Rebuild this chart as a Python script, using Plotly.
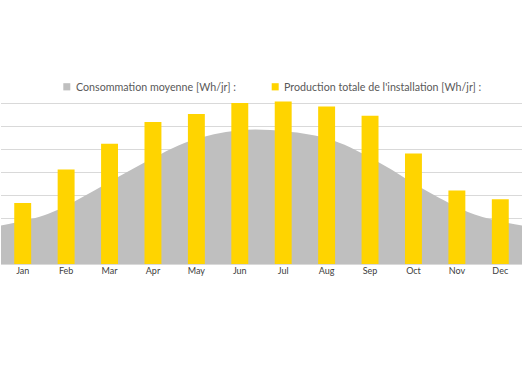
import plotly.graph_objects as go

months = ["Jan", "Feb", "Mar", "Apr", "May", "Jun", "Jul", "Aug", "Sep", "Oct", "Nov", "Dec"]
consommation = [1.68, 2.2, 3.25, 4.4, 5.39, 5.84, 5.80, 5.41, 4.42, 3.18, 2.16, 1.68]
production = [2.67, 4.13, 5.26, 6.21, 6.56, 7.04, 7.10, 6.89, 6.48, 4.83, 3.21, 2.83]
grid_values = [0, 1, 2, 3, 4, 5, 6, 7]

name_cons = "Consommation moyenne [Wh/jr] :"
name_prod = "Production totale de l'installation [Wh/jr] :"
color_cons = "#bfbfbf"
color_prod = "#ffd400"

WIDTH, HEIGHT = 526, 365
L, R, T, B = 1, 4, 81.3, 100.5
PW, PH = WIDTH - L - R, HEIGHT - T - B


def px(x):
    return (x - L) / PW


def py(y):
    return (HEIGHT - B - y) / PH


fig = go.Figure()
fig.add_trace(go.Scatter(
    x=months, y=consommation, name=name_cons, xaxis="x", yaxis="y",
    mode="none", fill="tozeroy", fillcolor=color_cons,
    line=dict(shape="spline", smoothing=1.0), showlegend=False,
))
fig.add_trace(go.Bar(
    x=months, y=production, name=name_prod, xaxis="x2", yaxis="y",
    marker=dict(color=color_prod, line=dict(width=0)), showlegend=False,
))

# legend drawn as shapes + text
legend_items = [(name_cons, color_cons, 63.3, 74), (name_prod, color_prod, 271.7, 282)]
shapes = []
annotations = []
for name, col, sx, tx in legend_items:
    shapes.append(dict(type="rect", xref="paper", yref="paper",
                       x0=px(sx), x1=px(sx + 7), y0=py(90.7), y1=py(83.5),
                       fillcolor=col, line=dict(width=0)))
    annotations.append(dict(text=name, xref="paper", yref="paper", x=px(tx), y=py(87),
                            xanchor="left", yanchor="middle", showarrow=False,
                            font=dict(size=10.7, color="#595959")))

fig.update_layout(
    width=WIDTH, height=HEIGHT,
    margin=dict(l=L, r=R, t=T, b=B),
    paper_bgcolor="white", plot_bgcolor="white",
    font=dict(family="Lato, Open Sans, sans-serif", color="#595959"),
    bargap=0.61,
    showlegend=False,
    hovermode=False,
    shapes=shapes,
    annotations=annotations,
    xaxis=dict(type="category", range=[0, 11], visible=False, showgrid=False, automargin=False),
    xaxis2=dict(type="category", overlaying="x", range=[-0.5, 11.5], side="bottom",
                showgrid=False, showline=False, zeroline=False, ticks="", automargin=False,
                tickfont=dict(size=9, color="#404040")),
    yaxis=dict(range=[0, 8], tickvals=grid_values, showgrid=True, gridcolor="#d9d9d9", gridwidth=1,
               showticklabels=False, zeroline=True, zerolinecolor="#d9d9d9", ticks="",
               automargin=False),
)

fig.write_html("out.html",
               config={"displayModeBar": False, "staticPlot": True},
               post_script="document.body.style.margin='0';document.body.style.padding='0';")
